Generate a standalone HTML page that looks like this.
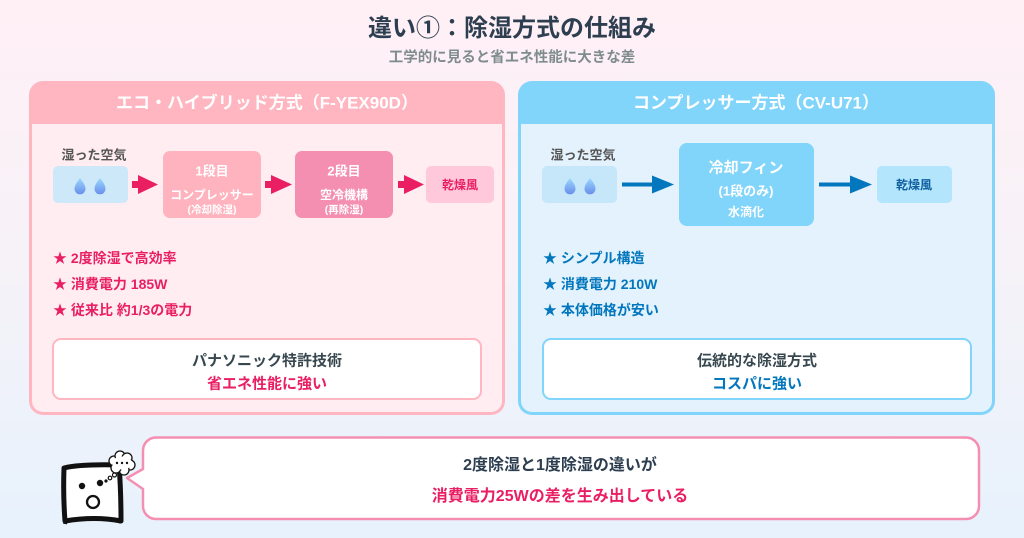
<!DOCTYPE html>
<html><head><meta charset="utf-8">
<style>
*{margin:0;padding:0;box-sizing:border-box}
html,body{width:1024px;height:538px;overflow:hidden}
body{position:relative;background:linear-gradient(to bottom,#FFF0F5 0%,#F7F2F8 45%,#E7F2FC 100%);font-family:"Liberation Sans","Noto Sans CJK JP",sans-serif;font-weight:700}
.a{position:absolute}
.t{position:absolute;white-space:nowrap;transform:translate(-50%,-50%);line-height:1;font-weight:700}
.l{position:absolute;white-space:nowrap;transform:translateY(-50%);line-height:1;font-weight:700}
.panel{position:absolute;border-radius:14px;overflow:hidden}
.body{position:absolute;left:3px;right:3px;top:43px;bottom:3px;border-radius:0 0 11px 11px}
.box{position:absolute;border-radius:7px}
</style></head><body>

<div class="t" style="left:512px;top:29px;font-size:24px;color:#2C3E50">違い①：除湿方式の仕組み</div>
<div class="t" style="left:512px;top:58px;font-size:14.5px;color:#7F8C8D">工学的に見ると省エネ性能に大きな差</div>

<!-- Left panel -->
<div class="panel" style="left:29px;top:81px;width:476px;height:334px;background:#FFB6C1">
  <div class="body" style="background:#FFEDF2"></div>
</div>
<div class="t" style="left:267px;top:103px;font-size:17px;color:#fff">エコ・ハイブリッド方式（F-YEX90D）</div>

<!-- Right panel -->
<div class="panel" style="left:518px;top:81px;width:477px;height:334px;background:#81D4FA">
  <div class="body" style="background:#E3F2FD"></div>
</div>
<div class="t" style="left:756px;top:103px;font-size:17px;color:#fff">コンプレッサー方式（CV-U71）</div>

<!-- Left flow -->
<div class="t" style="left:94px;top:155px;font-size:13px;color:#555">湿った空気</div>
<div class="box" style="left:53px;top:166px;width:75px;height:37px;background:#CDE8F8;border-radius:5px"></div>
<div class="box" style="left:163px;top:151px;width:98px;height:67px;background:#FFB3BF"></div>
<div class="t" style="left:212px;top:171px;font-size:13px;color:#fff">1段目</div>
<div class="t" style="left:212px;top:195px;font-size:12px;color:#fff">コンプレッサー</div>
<div class="t" style="left:212px;top:210px;font-size:10.5px;color:#fff">(冷却除湿)</div>
<div class="box" style="left:295px;top:151px;width:98px;height:67px;background:#F48FB1"></div>
<div class="t" style="left:344px;top:171px;font-size:13px;color:#fff">2段目</div>
<div class="t" style="left:344px;top:195px;font-size:12px;color:#fff">空冷機構</div>
<div class="t" style="left:344px;top:210px;font-size:10.5px;color:#fff">(再除湿)</div>
<div class="box" style="left:426px;top:166px;width:68px;height:37px;background:#FFC9DB;border-radius:5px"></div>
<div class="t" style="left:460px;top:185px;font-size:12px;color:#E91E63">乾燥風</div>

<!-- Right flow -->
<div class="t" style="left:583px;top:155px;font-size:13px;color:#555">湿った空気</div>
<div class="box" style="left:542px;top:166px;width:75px;height:37px;background:#C6E6FA;border-radius:5px"></div>
<div class="box" style="left:679px;top:143px;width:135px;height:83px;background:#81D4FA;border-radius:8px"></div>
<div class="t" style="left:746px;top:168px;font-size:15px;color:#fff">冷却フィン</div>
<div class="t" style="left:746px;top:191px;font-size:13px;color:#fff">(1段のみ)</div>
<div class="t" style="left:746px;top:212px;font-size:12px;color:#fff">水滴化</div>
<div class="box" style="left:877px;top:166px;width:75px;height:37px;background:#B3E5FC;border-radius:5px"></div>
<div class="t" style="left:914px;top:185px;font-size:12px;color:#0D5FA0">乾燥風</div>

<!-- Bullets -->
<div class="l" style="left:53px;top:258px;font-size:14px;color:#E91E63">★ 2度除湿で高効率</div>
<div class="l" style="left:53px;top:284px;font-size:14px;color:#E91E63">★ 消費電力 185W</div>
<div class="l" style="left:53px;top:310px;font-size:14px;color:#E91E63">★ 従来比 約1/3の電力</div>
<div class="l" style="left:543px;top:258px;font-size:14px;color:#0277BD">★ シンプル構造</div>
<div class="l" style="left:543px;top:284px;font-size:14px;color:#0277BD">★ 消費電力 210W</div>
<div class="l" style="left:543px;top:310px;font-size:14px;color:#0277BD">★ 本体価格が安い</div>

<!-- Bottom boxes in panels -->
<div class="a" style="left:52px;top:338px;width:430px;height:62px;background:#fff;border:2.5px solid #FFB6C1;border-radius:9px"></div>
<div class="t" style="left:267px;top:361px;font-size:15px;color:#37474F">パナソニック特許技術</div>
<div class="t" style="left:267px;top:384px;font-size:15px;color:#E91E63">省エネ性能に強い</div>
<div class="a" style="left:542px;top:338px;width:430px;height:62px;background:#fff;border:2.5px solid #81D4FA;border-radius:9px"></div>
<div class="t" style="left:757px;top:361px;font-size:15px;color:#37474F">伝統的な除湿方式</div>
<div class="t" style="left:757px;top:384px;font-size:15px;color:#0277BD">コスパに強い</div>

<svg class="a" style="left:0;top:0" width="1024" height="538" viewBox="0 0 1024 538">
  <defs>
    <linearGradient id="dg" x1="0" y1="0" x2="0" y2="1">
      <stop offset="0" stop-color="#9AD8FF"/>
      <stop offset="1" stop-color="#6A8FEA"/>
    </linearGradient>
    <path id="drop" d="M0,-8 C3,-4 5.5,-0.5 5.5,2.8 A5.5,5.5 0 0 1 -5.5,2.8 C-5.5,-0.5 -3,-4 0,-8 Z"/>
  </defs>
  <!-- drops -->
  <use href="#drop" x="80" y="186" fill="url(#dg)"/>
  <use href="#drop" x="100" y="186" fill="url(#dg)"/>
  <use href="#drop" x="570" y="186" fill="url(#dg)"/>
  <use href="#drop" x="590" y="186" fill="url(#dg)"/>
  <!-- pink arrows -->
  <g fill="#E91E63">
    <rect x="132" y="181" width="10" height="7"/><path d="M138,175 L158,184.5 L138,194 Z"/>
    <rect x="265" y="181" width="10" height="7"/><path d="M271,175 L292,184.5 L271,194 Z"/>
    <rect x="398" y="181" width="10" height="7"/><path d="M404,175 L424,184.5 L404,194 Z"/>
  </g>
  <!-- blue arrows -->
  <g fill="#0277BD">
    <rect x="622" y="182.5" width="32" height="4"/><path d="M652,175.5 L674,184.5 L652,193.5 Z"/>
    <rect x="819" y="182.5" width="33" height="4"/><path d="M850,175.5 L872,184.5 L850,193.5 Z"/>
  </g>
  <!-- speech bubble -->
  <path d="M156,437.5 H966 A13,13 0 0 1 979,450.5 V506 A13,13 0 0 1 966,519 H156 A13,13 0 0 1 143,506 V489 L127,478 L143,469 V450.5 A13,13 0 0 1 156,437.5 Z" fill="#fff" stroke="#F48FB1" stroke-width="2.5" stroke-linejoin="round"/>
  <!-- character -->
  <path d="M64,468 Q80,464 119,465 Q121,490 121,521 Q95,516 65,521 Q63,495 64,468 Z" fill="#fff" stroke="#111" stroke-width="5" stroke-linejoin="round"/>
  <path d="M66,519 L65,524 M120,518 L121,523" stroke="#111" stroke-width="4"/>
  <circle cx="82" cy="486" r="3.2" fill="#111"/>
  <circle cx="100" cy="483" r="3.2" fill="#111"/>
  <circle cx="93" cy="502" r="6" fill="#fff" stroke="#111" stroke-width="2.3"/>
  <circle cx="106" cy="481" r="1.6" fill="#111"/>
  <circle cx="110" cy="478" r="1.8" fill="#fff" stroke="#111" stroke-width="1.2"/>
  <circle cx="114.5" cy="475" r="2" fill="#fff" stroke="#111" stroke-width="1.2"/>
  <g fill="#fff" stroke="#111" stroke-width="1.3">
    <circle cx="114" cy="461" r="5"/><circle cx="120" cy="456" r="5"/><circle cx="127" cy="458" r="5"/>
    <circle cx="130" cy="465" r="5"/><circle cx="124" cy="470" r="5"/><circle cx="116" cy="468" r="5"/>
  </g>
  <ellipse cx="122" cy="463" rx="10" ry="6.5" fill="#fff"/>
  <circle cx="117" cy="463" r="1.2" fill="#111"/><circle cx="122" cy="463" r="1.2" fill="#111"/><circle cx="127" cy="463" r="1.2" fill="#111"/>
</svg>

<div class="t" style="left:560px;top:466px;font-size:16px;color:#2C3E50">2度除湿と1度除湿の違いが</div>
<div class="t" style="left:560px;top:497px;font-size:16px;color:#E91E63">消費電力25Wの差を生み出している</div>

</body></html>
